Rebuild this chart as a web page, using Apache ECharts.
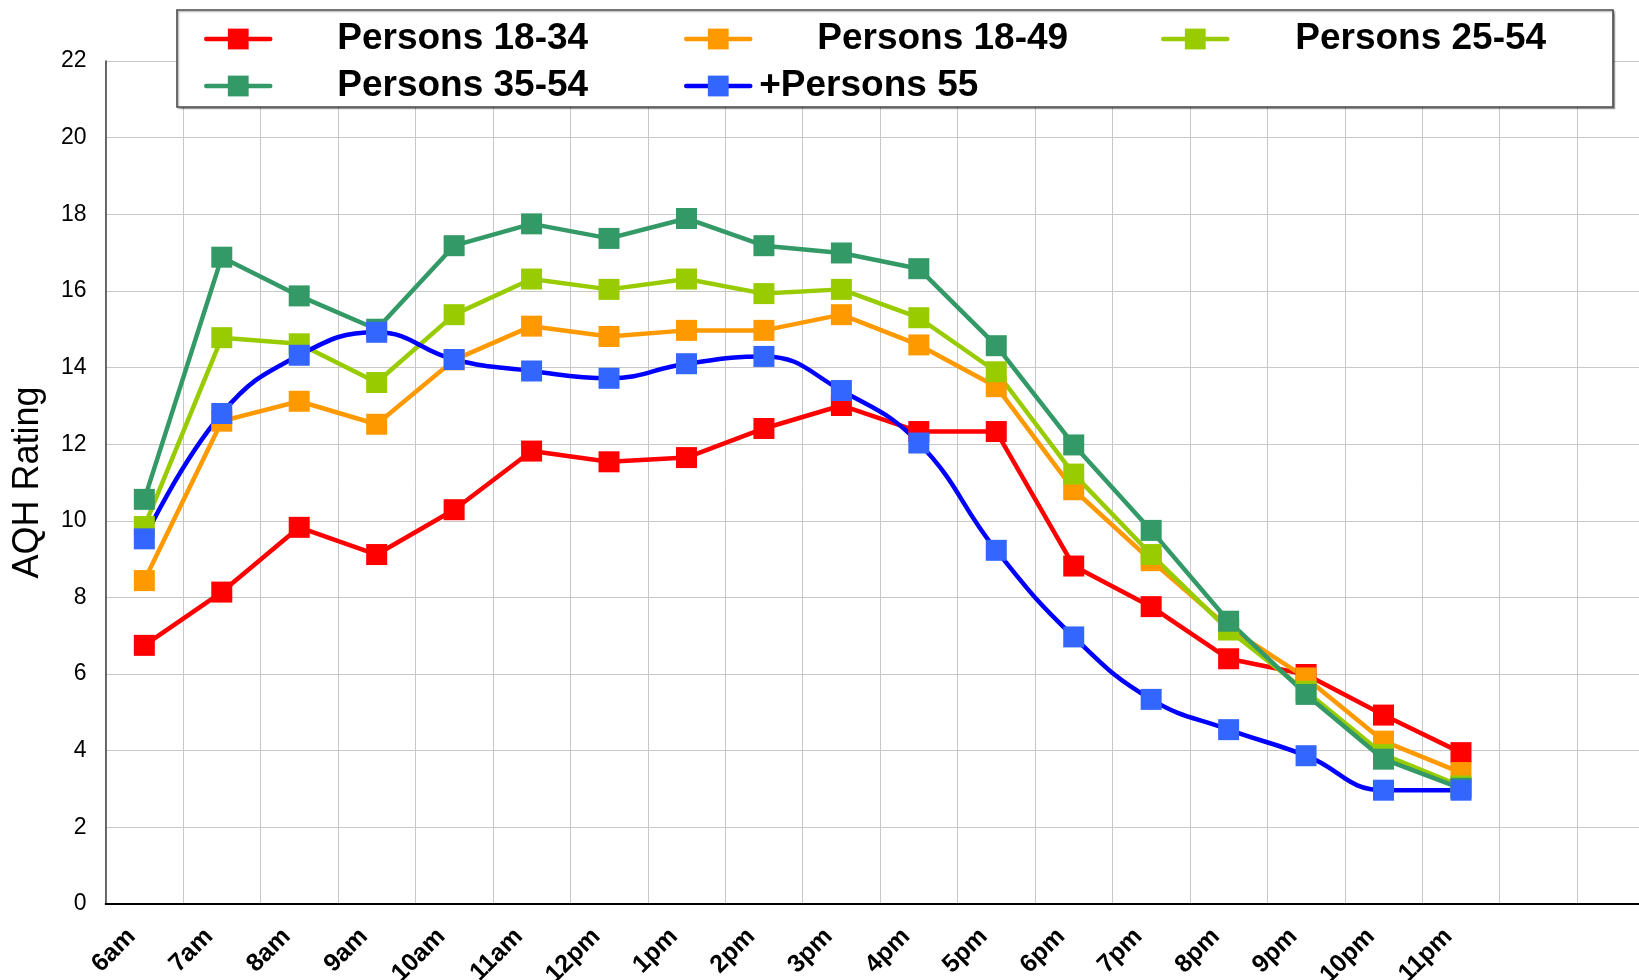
<!DOCTYPE html>
<html>
<head>
<meta charset="utf-8">
<script src="https://cdn.jsdelivr.net/npm/echarts@6/dist/echarts.min.js"></script>
<style>
  html, body { margin: 0; padding: 0; background: #ffffff; }
  #chart { width: 1639px; height: 980px; }
</style>
</head>
<body>
<div id="chart"></div>
<script>
// Hour-by-hour AQH ratings by demographic
const hours = ['6am', '7am', '8am', '9am', '10am', '11am', '12pm', '1pm', '2pm', '3pm',
               '4pm', '5pm', '6pm', '7pm', '8pm', '9pm', '10pm', '11pm', '', ''];

const persons18_34 = [6.75, 8.14, 9.83, 9.12, 10.29, 11.82, 11.54, 11.65, 12.41, 13.01,
                      12.33, 12.33, 8.82, 7.76, 6.40, 5.99, 4.93, 3.95];
const persons18_49 = [8.44, 12.60, 13.12, 12.52, 14.20, 15.08, 14.81, 14.97, 14.97, 15.38,
                      14.59, 13.50, 10.81, 8.96, 7.21, 5.90, 4.25, 3.43];
const persons25_54 = [9.85, 14.78, 14.62, 13.61, 15.38, 16.31, 16.04, 16.31, 15.93, 16.04,
                      15.30, 13.89, 11.22, 9.12, 7.15, 5.55, 3.90, 3.08];
const persons35_54 = [10.56, 16.88, 15.87, 15.00, 17.18, 17.75, 17.37, 17.89, 17.18, 16.99,
                      16.58, 14.57, 11.98, 9.75, 7.38, 5.47, 3.78, 3.02];
const persons55plus = [9.53, 12.80, 14.32, 14.92, 14.21, 13.91, 13.72, 14.10, 14.29, 13.40,
                       12.03, 9.23, 6.97, 5.34, 4.55, 3.87, 2.97, 2.97];

const yTicks = { min: 0, max: 22, step: 2 };

const FONT = '"Liberation Sans", Arial, sans-serif';

function lineSeries(name, data, lineColor, markerColor, smooth) {
  return {
    name: name,
    type: 'line',
    data: data,
    smooth: smooth,
    symbol: 'rect',
    symbolSize: 21,
    showAllSymbol: true,
    lineStyle: { color: lineColor, width: 4.5, cap: 'round', join: 'round' },
    itemStyle: { color: markerColor },
    emphasis: { disabled: true },
    animation: false
  };
}

// One legend block per entry so each sits at its own spot inside the framed box
function legendEntry(name, left, top, textGap) {
  return {
    data: [name],
    left: left,
    top: top,
    padding: 0,
    itemWidth: 64,
    itemHeight: 26,
    selectedMode: false,
    z: 20,
    lineStyle: { width: 4.5, cap: 'round' },
    textStyle: {
      fontFamily: FONT,
      fontSize: 37,
      fontWeight: 'bold',
      color: '#000000',
      lineHeight: 40,
      padding: [0, 0, 0, textGap]
    }
  };
}

const chart = echarts.init(document.getElementById('chart'), null, { renderer: 'canvas' });

chart.setOption({
  backgroundColor: '#ffffff',
  animation: false,
  grid: { left: 105.6, top: 61, width: 1549, height: 843, containLabel: false, outerBoundsMode: 'none' },
  graphic: [{
    type: 'rect',
    z: 10,
    shape: { x: 177, y: 10, width: 1436, height: 97 },
    style: { fill: '#ffffff', stroke: '#484848', lineWidth: 1.6,
             shadowColor: 'rgba(0,0,0,0.25)', shadowOffsetX: 1.5, shadowOffsetY: 1.5, shadowBlur: 1 }
  }],
  legend: [
    legendEntry('Persons 18-34', 204, 19, 62),
    legendEntry('Persons 18-49', 684, 19, 62),
    legendEntry('Persons 25-54', 1161, 19, 63),
    legendEntry('Persons 35-54', 204, 66, 62),
    legendEntry('+Persons 55', 684, 66, 4)
  ],
  xAxis: {
    type: 'category',
    data: hours,
    boundaryGap: true,
    axisLine: { show: true, lineStyle: { color: '#000000', width: 2 } },
    axisTick: { show: false },
    splitLine: { show: true, interval: 0, lineStyle: { color: '#c8c8c8', width: 1 } },
    axisLabel: {
      interval: 0,
      rotate: 45,
      margin: 16,
      padding: [0, 18, 0, 0],
      fontFamily: FONT,
      fontSize: 25,
      fontWeight: 'bold',
      color: '#000000'
    }
  },
  yAxis: {
    type: 'value',
    min: yTicks.min,
    max: yTicks.max,
    interval: yTicks.step,
    name: 'AQH Rating',
    nameLocation: 'middle',
    nameGap: 60,
    nameRotate: 90,
    nameTextStyle: { fontFamily: FONT, fontSize: 36, color: '#000000' },
    axisLine: { show: true, lineStyle: { color: '#404040', width: 1.5 } },
    axisTick: { show: false },
    splitLine: { show: true, lineStyle: { color: '#c8c8c8', width: 1 } },
    axisLabel: { margin: 19, fontFamily: FONT, fontSize: 23, color: '#000000' }
  },
  series: [
    lineSeries('Persons 18-34', persons18_34, '#ff0000', '#ff0000', false),
    lineSeries('Persons 18-49', persons18_49, '#ff9900', '#ff9900', false),
    lineSeries('Persons 25-54', persons25_54, '#99cc00', '#99cc00', false),
    lineSeries('Persons 35-54', persons35_54, '#339966', '#339966', false),
    lineSeries('+Persons 55', persons55plus, '#0000ff', '#3366ff', 0.45)
  ]
});
</script>
</body>
</html>
